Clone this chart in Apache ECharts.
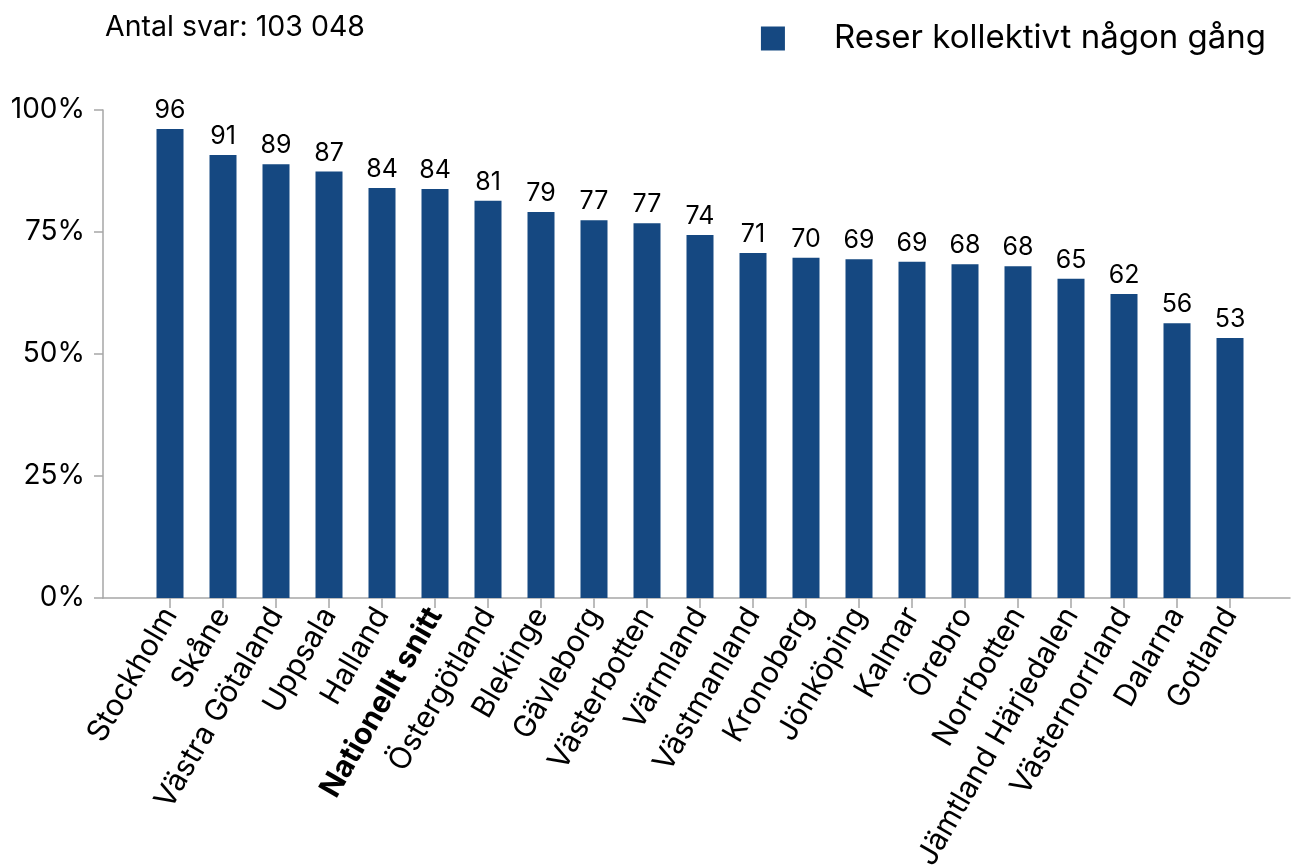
<!DOCTYPE html>
<html>
<head>
<meta charset="utf-8">
<script src="https://cdn.jsdelivr.net/npm/echarts@6/dist/echarts.min.js"></script>
<style>html,body{margin:0;padding:0;background:#fff}#chart{width:1291px;height:865px}</style>
</head>
<body>
<div id="chart"></div>
<script>
var categories = ['Stockholm','Skåne','Västra Götaland','Uppsala','Halland','Nationellt snitt','Östergötland','Blekinge','Gävleborg','Västerbotten','Värmland','Västmanland','Kronoberg','Jönköping','Kalmar','Örebro','Norrbotten','Jämtland Härjedalen','Västernorrland','Dalarna','Gotland'];
var values = [96.1, 90.8, 88.9, 87.4, 84.0, 83.8, 81.4, 79.1, 77.4, 76.8, 74.4, 70.7, 69.7, 69.4, 68.9, 68.4, 68.0, 65.4, 62.3, 56.3, 53.3];
var yTicks = [0, 25, 50, 75, 100];
var seriesName = 'Reser kollektivt någon gång';
var subtitle = 'Antal svar: 103 048';
var highlight = 'Nationellt snitt';

var FONT = 'Inter';
var AX = '#a6a6a6';
var chart = echarts.init(document.getElementById('chart'));
chart.setOption({
  animation: false,
  textStyle: { fontFamily: FONT, color: '#000' },
  title: { text: subtitle, left: 100, top: 8, textStyle: { fontFamily: FONT, fontSize: 28.5, fontWeight: 'normal', color: '#000' } },
  legend: {
    right: 20, top: 17, icon: 'rect', itemWidth: 24, itemHeight: 24,
    textStyle: { fontFamily: FONT, fontSize: 33, color: '#000', padding: [0, 0, 0, 44] },
    data: [seriesName]
  },
  grid: [
    { left: 103, right: 1, top: 110, height: 488, containLabel: false, outerBoundsMode: 'none' },
    { left: 143.5, width: 1113, top: 110, height: 488, containLabel: false, outerBoundsMode: 'none' }
  ],
  xAxis: [
    { type: 'value', gridIndex: 0, min: 0, max: 1, axisLine: { show: true, lineStyle: { color: AX, width: 1.5 } }, axisTick: { show: false }, axisLabel: { show: false }, splitLine: { show: false } },
    { type: 'category', gridIndex: 1, data: categories, axisLine: { show: false },
      axisTick: { show: true, alignWithLabel: true, length: 10, lineStyle: { color: AX, width: 1.5 } },
      axisLabel: { interval: 0, rotate: 60, fontSize: 30, color: '#000', margin: 12, fontFamily: FONT,
        formatter: function (v) { return v === highlight ? '{b|' + v + '}' : v; },
        rich: { b: { fontWeight: 'bold', fontSize: 30, fontFamily: FONT, color: '#000' } } } }
  ],
  yAxis: [
    { type: 'value', gridIndex: 0, min: yTicks[0], max: yTicks[yTicks.length - 1], interval: 25,
      axisLine: { show: true, lineStyle: { color: AX, width: 1.5 } },
      axisTick: { show: true, length: 9, lineStyle: { color: AX, width: 1.5 } },
      axisLabel: { formatter: '{value}%', fontSize: 28, color: '#000', margin: 18, fontFamily: FONT },
      splitLine: { show: false } },
    { type: 'value', gridIndex: 1, min: 0, max: 100, show: false }
  ],
  series: [{
    name: seriesName, type: 'bar', xAxisIndex: 1, yAxisIndex: 1, data: values, barWidth: 27,
    itemStyle: { color: '#154881' },
    label: { show: true, position: 'top', distance: 6, fontSize: 25, color: '#000', fontFamily: FONT,
      formatter: function (p) { return Math.round(p.value); } }
  }]
});
</script>
</body>
</html>
